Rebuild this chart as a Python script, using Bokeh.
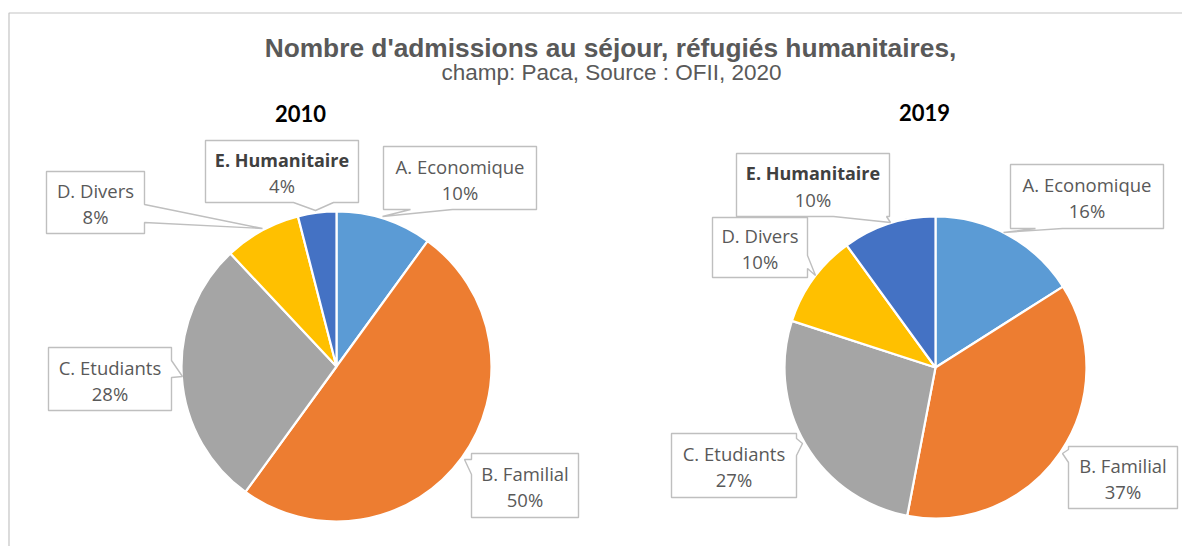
import math
from bokeh.plotting import figure
from bokeh.models import Range1d, ColumnDataSource
from bokeh.embed import file_html
from bokeh.resources import INLINE
from bokeh.core.properties import value

# ---------------- data ----------------
categories = ["A. Economique", "B. Familial", "C. Etudiants", "D. Divers", "E. Humanitaire"]
values_2010 = [10, 50, 28, 8, 4]
values_2019 = [16, 37, 27, 10, 10]
colors = ["#5B9BD5", "#ED7D31", "#A5A5A5", "#FFC000", "#4472C4"]
years = ["2010", "2019"]
title = "Nombre d'admissions au séjour, réfugiés humanitaires,"
subtitle = "champ: Paca, Source : OFII, 2020"

# ---------------- layout ----------------
W, H = 1182, 546
PAGE_H = 554


def Y(sy):
    return PAGE_H - sy


p = figure(width=W, height=H, x_range=Range1d(0, W), y_range=Range1d(PAGE_H - H, PAGE_H),
           output_backend="svg", toolbar_location=None, min_border=0)
p.axis.visible = False
p.grid.visible = False
p.outline_line_color = None
p.background_fill_color = "white"
p.border_fill_color = "white"

# chart border (top & left visible)
p.line(x=[8.5, 8.5, W], y=[Y(554), Y(12.5), Y(12.5)], line_color="#C4C4C4", line_width=1.2)

LABEL_FONT = "Open Sans"


def pie(vals, cx, cy, r):
    total = float(sum(vals))
    cum = 0.0
    starts, ends = [], []
    for v in vals:
        a0 = cum / total
        cum += v
        a1 = cum / total
        starts.append(math.pi / 2 - 2 * math.pi * a1)
        ends.append(math.pi / 2 - 2 * math.pi * a0)
    src = ColumnDataSource(dict(start=starts, end=ends, color=colors, cat=categories, val=vals))
    p.wedge(x=cx, y=Y(cy), radius=r, start_angle="start", end_angle="end",
            fill_color="color", line_color="white", line_width=2.2, source=src)


def callouts(vals, specs):
    xs, ys = [], []
    for (x0, y0, x1, y1, side, b0, b1, tx, ty) in specs:
        pts = [(x0, y0)]
        if side == "top":
            pts += [(b0, y0), (tx, ty), (b1, y0)]
        pts += [(x1, y0)]
        if side == "right":
            pts += [(x1, b0), (tx, ty), (x1, b1)]
        pts += [(x1, y1)]
        if side == "bottom":
            pts += [(b1, y1), (tx, ty), (b0, y1)]
        pts += [(x0, y1)]
        if side == "left":
            pts += [(x0, b1), (tx, ty), (x0, b0)]
        xs.append([pt[0] for pt in pts])
        ys.append([Y(pt[1]) for pt in pts])
    p.patches(xs=xs, ys=ys, fill_color="white", line_color="#BFBFBF", line_width=1.4)
    for i, (x0, y0, x1, y1, side, b0, b1, tx, ty) in enumerate(specs):
        cxm = (x0 + x1) / 2
        cym = (y0 + y1) / 2
        bold = categories[i].startswith("E.")
        p.text(x=[cxm], y=[Y(cym - 12)], text=[categories[i]],
               text_font=value(LABEL_FONT), text_font_size="18px" if bold else "18.5px",
               text_font_style="bold" if bold else "normal",
               text_color="#404040" if bold else "#595959",
               text_align="center", text_baseline="middle")
        p.text(x=[cxm], y=[Y(cym + 14)], text=["%d%%" % vals[i]],
               text_font=value(LABEL_FONT), text_font_size="18.5px",
               text_color="#595959", text_align="center", text_baseline="middle")


# 2010 pie
pie(values_2010, 336, 366, 155)
callouts(values_2010, [
    (383, 146, 536, 209, "bottom", 410, 452, 382, 216),
    (471, 453, 578, 517, "left", 459, 474, 464, 459),
    (48, 347, 171, 410, "right", 360, 377, 182, 376),
    (46, 171, 144, 233, "right", 204, 222, 262, 228),
    (205, 140, 358, 202, "bottom", 293, 333, 315, 210),
])

# 2019 pie
pie(values_2019, 935, 367, 151)
callouts(values_2019, [
    (1010, 164, 1163, 228, "bottom", 1035, 1062, 1003, 232),
    (1068, 446, 1177, 508, "left", 449, 462, 1062, 453),
    (671, 433, 796, 497, "right", 438, 455, 802, 443),
    (712, 217, 807, 277, "right", 255, 268, 815, 275),
    (736, 153, 889, 216, "bottom", 833, 886, 890, 222),
])

# year labels
p.text(x=[300, 924], y=[Y(113), Y(112)], text=years,
       text_font=value("Lato"), text_font_size="22px", text_font_style="bold",
       text_color="#000000", text_align="center", text_baseline="middle")

# titles
p.text(x=[610], y=[Y(47)], text=[title], text_font=value("Liberation Sans"),
       text_font_size="26.3px", text_font_style="bold", text_color="#595959",
       text_align="center", text_baseline="middle")
p.text(x=[611], y=[Y(72)], text=[subtitle], text_font=value("Liberation Sans"),
       text_font_size="22.5px", text_color="#595959",
       text_align="center", text_baseline="middle")

open("out.html", "w").write(file_html(p, INLINE))
